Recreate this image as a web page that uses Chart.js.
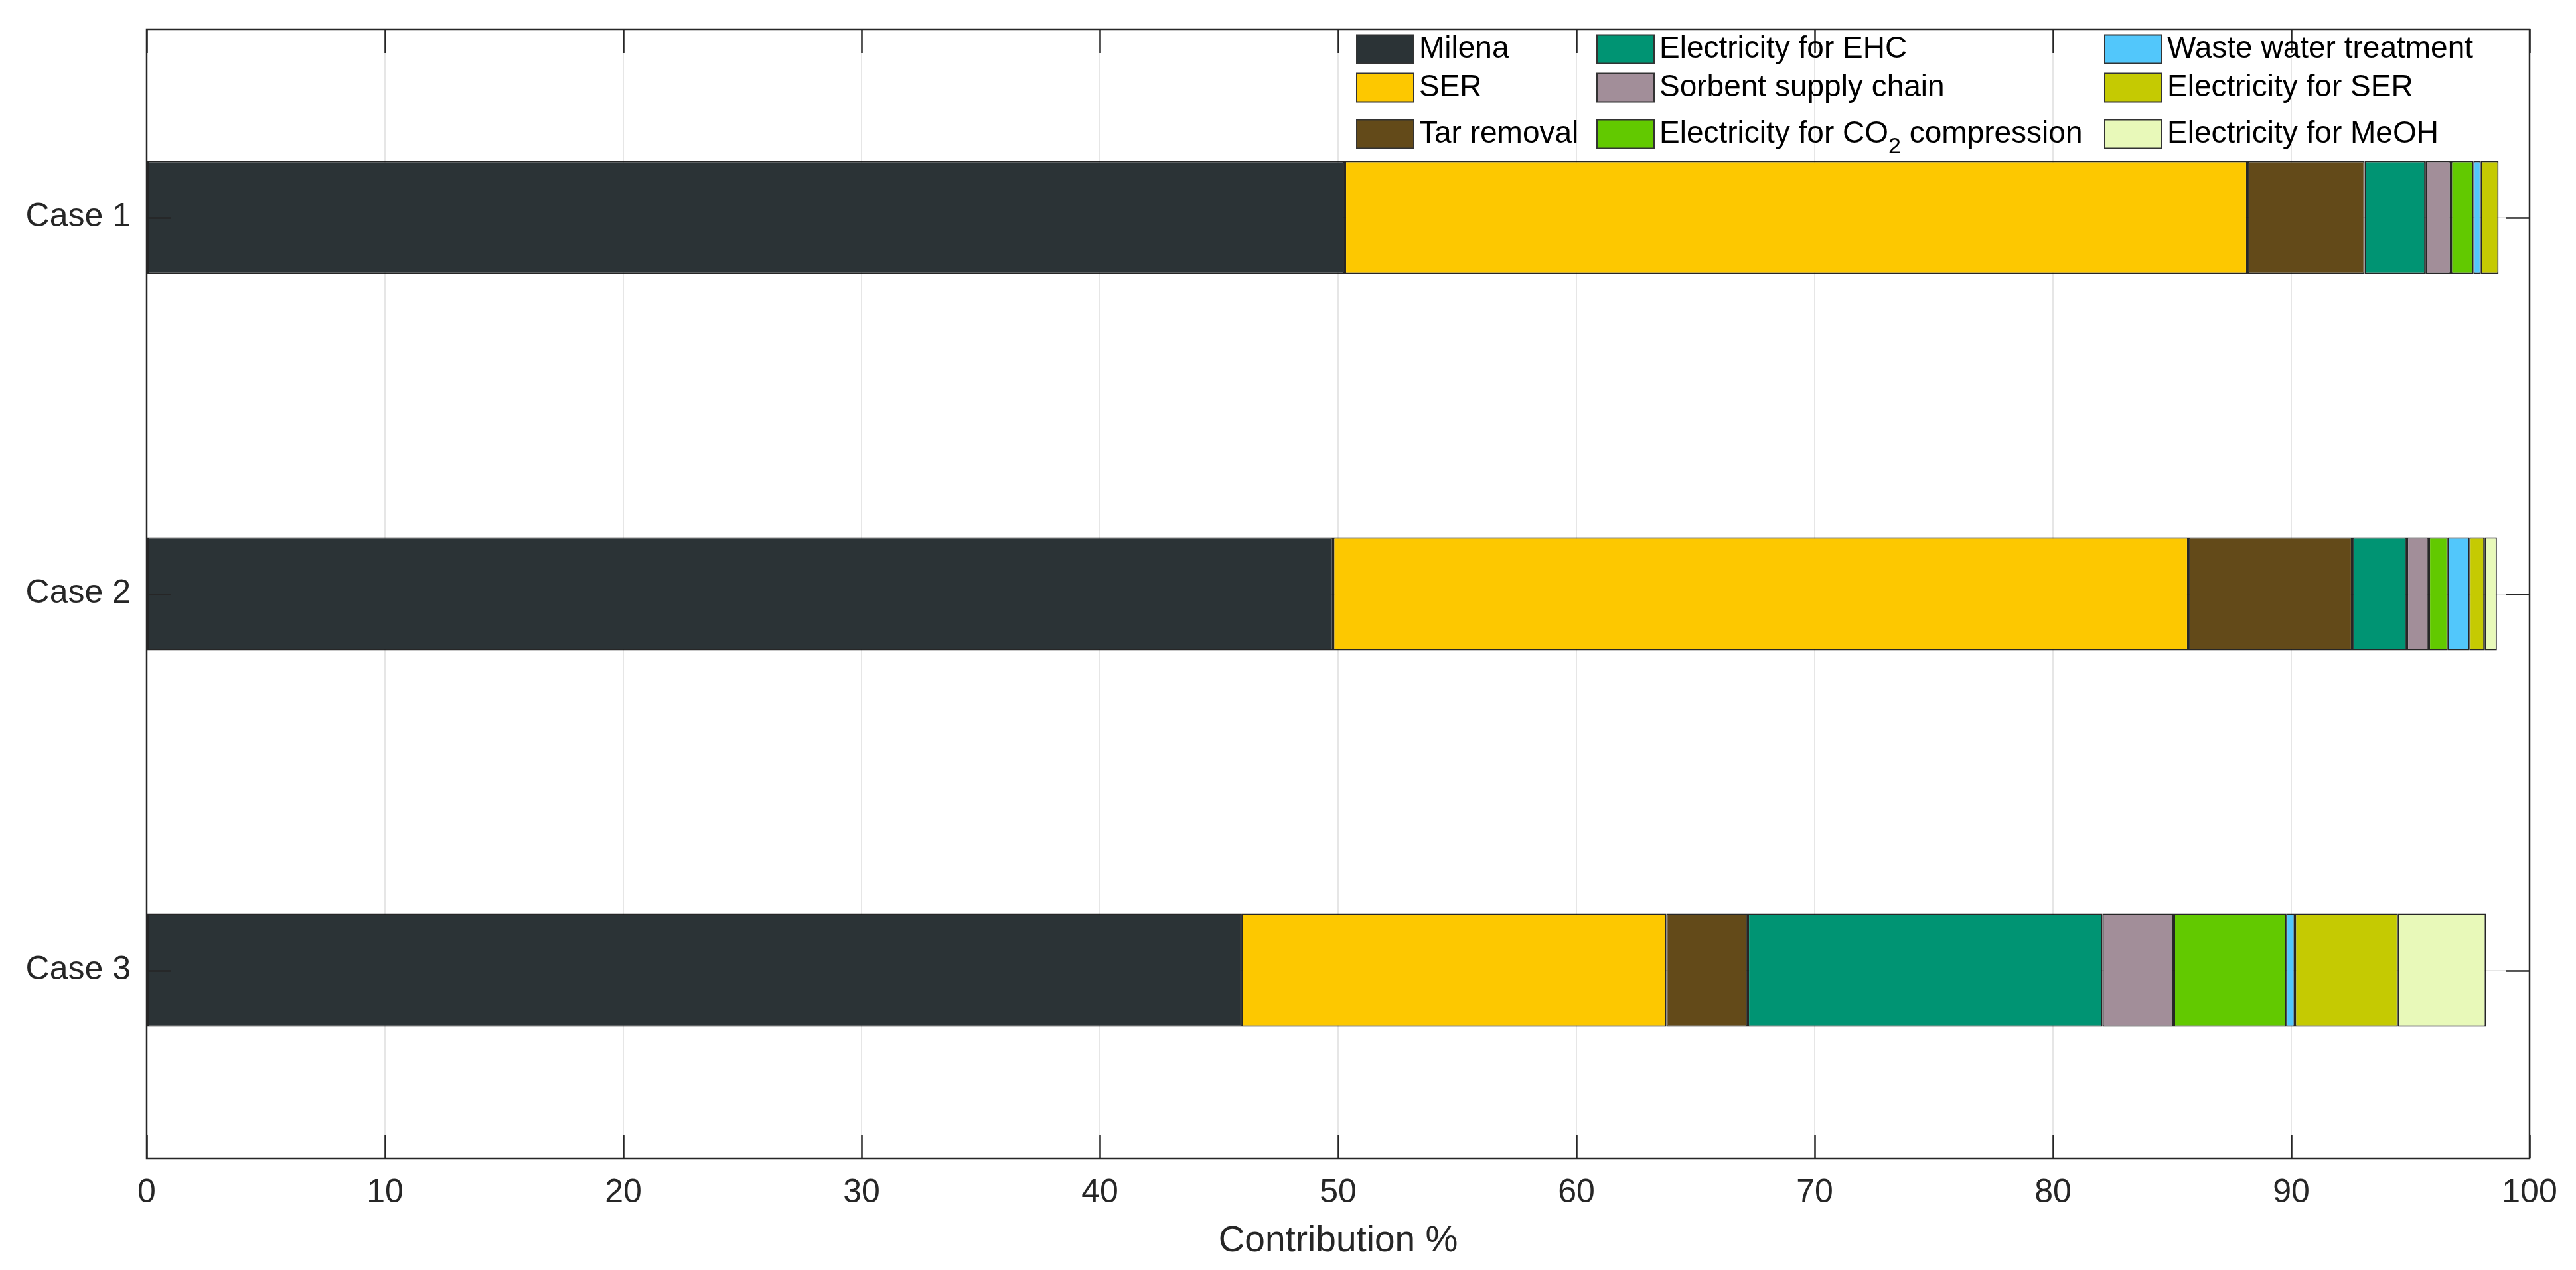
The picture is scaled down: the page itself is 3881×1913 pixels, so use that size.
<!DOCTYPE html>
<html lang="en">
<head>
    <meta charset="UTF-8">
    <title>Contribution by case</title>
    <style>
        * { margin: 0; padding: 0; box-sizing: border-box; }
        body { background: #fff; }
        #wrap { width: 3881px; height: 1913px; position: relative; }
    </style>
</head>
<body>
    <div id="wrap"><canvas id="chart"></canvas></div>

    <script src="https://cdn.jsdelivr.net/npm/chart.js"></script>
    <script>
        const cases = ['Case 1', 'Case 2', 'Case 3'];

        // contribution (%) per process, one value per case
        const milena   = [50.28, 49.79, 45.96];
        const ser      = [37.88, 35.89, 17.81];
        const tar      = [4.92, 6.88, 3.42];
        const ehc      = [2.55, 2.29, 14.89];
        const sorbent  = [1.07, 0.92, 2.99];
        const co2      = [0.94, 0.80, 4.71];
        const wwt      = [0.32, 0.90, 0.37];
        const elecSer  = [0.74, 0.64, 4.33];
        const meoh     = [0, 0.52, 3.69];

        const seriesNames = ['Milena', 'SER', 'Tar removal', 'Electricity for EHC', 'Sorbent supply chain',
            'Electricity for CO2 compression', 'Waste water treatment', 'Electricity for SER', 'Electricity for MeOH'];
        const seriesValues = [milena, ser, tar, ehc, sorbent, co2, wwt, elecSer, meoh];
        const seriesColors = ['#2b3336', '#fdc800', '#634a19', '#009473', '#a28e99',
            '#62c900', '#52c7fb', '#c5ca02', '#e8f9b9'];

        const xTicks = [0, 10, 20, 30, 40, 50, 60, 70, 80, 90, 100];

        const FONT = "'Liberation Sans', Arial, sans-serif";
        const TEXT = '#262626';
        const AXIS = '#262626';

        // MATLAB-style box with inward ticks
        const boxPlugin = {
            id: 'box',
            afterDatasetsDraw(chart) {
                const { ctx, chartArea: a, scales } = chart;
                const tl = 36;
                ctx.save();
                ctx.strokeStyle = AXIS;
                ctx.lineWidth = 2.5;
                ctx.beginPath();
                xTicks.forEach(v => {
                    const x = Math.round(scales.x.getPixelForValue(v)) + 0.5;
                    ctx.moveTo(x, a.bottom); ctx.lineTo(x, a.bottom - tl);
                    ctx.moveTo(x, a.top); ctx.lineTo(x, a.top + tl);
                });
                cases.forEach((c, i) => {
                    const y = Math.round(scales.y.getPixelForValue(i)) + 0.5;
                    ctx.moveTo(a.left, y); ctx.lineTo(a.left + tl, y);
                    ctx.moveTo(a.right, y); ctx.lineTo(a.right - tl, y);
                });
                ctx.stroke();
                ctx.strokeRect(a.left, a.top, a.right - a.left, a.bottom - a.top);
                ctx.restore();
            }
        };

        // legend in three columns, filled column by column
        const legendPlugin = {
            id: 'colLegend',
            afterDraw(chart) {
                const { ctx } = chart;
                const colX = [2044, 2406, 3171];
                const rowY = [74, 132, 202];
                const sw = 86, sh = 43;
                ctx.save();
                ctx.font = '46px ' + FONT;
                ctx.textBaseline = 'middle';
                chart.data.datasets.forEach((ds, i) => {
                    const col = Math.floor(i / 3), row = i % 3;
                    const x = colX[col], y = rowY[row];
                    ctx.fillStyle = ds.backgroundColor;
                    ctx.fillRect(x, y - sh / 2, sw, sh);
                    ctx.strokeStyle = '#333';
                    ctx.lineWidth = 2;
                    ctx.strokeRect(x, y - sh / 2, sw, sh);
                    ctx.fillStyle = '#000';
                    const tx = x + sw + 8;
                    const label = ds.label;
                    if (label.includes('CO2')) {
                        const [pre, post] = label.split('CO2');
                        ctx.font = '46px ' + FONT;
                        ctx.fillText(pre + 'CO', tx, y);
                        let w = ctx.measureText(pre + 'CO').width;
                        ctx.font = '34px ' + FONT;
                        ctx.fillText('2', tx + w, y + 20);
                        w += ctx.measureText('2').width;
                        ctx.font = '46px ' + FONT;
                        ctx.fillText(post, tx + w, y);
                    } else {
                        ctx.fillText(label, tx, y);
                    }
                });
                ctx.restore();
            }
        };

        const datasets = seriesNames.map((name, i) => ({
            label: name,
            data: seriesValues[i],
            backgroundColor: seriesColors[i],
            borderColor: 'rgba(0,0,0,0.85)',
            borderWidth: 2,
            borderSkipped: false,
            categoryPercentage: 1,
            barPercentage: 0.3
        }));

        new Chart(document.getElementById('chart'), {
            type: 'bar',
            data: { labels: cases, datasets: datasets },
            plugins: [boxPlugin, legendPlugin],
            options: {
                indexAxis: 'y',
                responsive: true,
                maintainAspectRatio: false,
                animation: false,
                devicePixelRatio: 1,
                layout: { padding: { top: 44, right: 70, left: 0, bottom: 0 } },
                plugins: {
                    legend: { display: false },
                    tooltip: { enabled: false }
                },
                scales: {
                    x: {
                        stacked: true,
                        min: 0,
                        max: 100,
                        afterBuildTicks: s => { s.ticks = xTicks.map(v => ({ value: v })); },
                        afterFit: s => { s.height = 168; s.paddingLeft = 0; s.paddingRight = 0; },
                        ticks: { font: { family: FONT, size: 50 }, color: TEXT, padding: 22, maxRotation: 0 },
                        grid: { color: '#e6e6e6', lineWidth: 2, drawTicks: false },
                        border: { display: false },
                        title: {
                            display: true,
                            text: 'Contribution %',
                            font: { family: FONT, size: 55 },
                            color: TEXT,
                            padding: { top: 6, bottom: 10 }
                        }
                    },
                    y: {
                        stacked: true,
                        afterFit: s => { s.width = 221; s.paddingTop = 0; s.paddingBottom = 0; },
                        ticks: { font: { family: FONT, size: 50 }, color: TEXT, padding: 24 },
                        grid: { color: '#e6e6e6', lineWidth: 2, drawTicks: false, offset: false },
                        border: { display: false }
                    }
                }
            }
        });
    </script>
</body>
</html>
